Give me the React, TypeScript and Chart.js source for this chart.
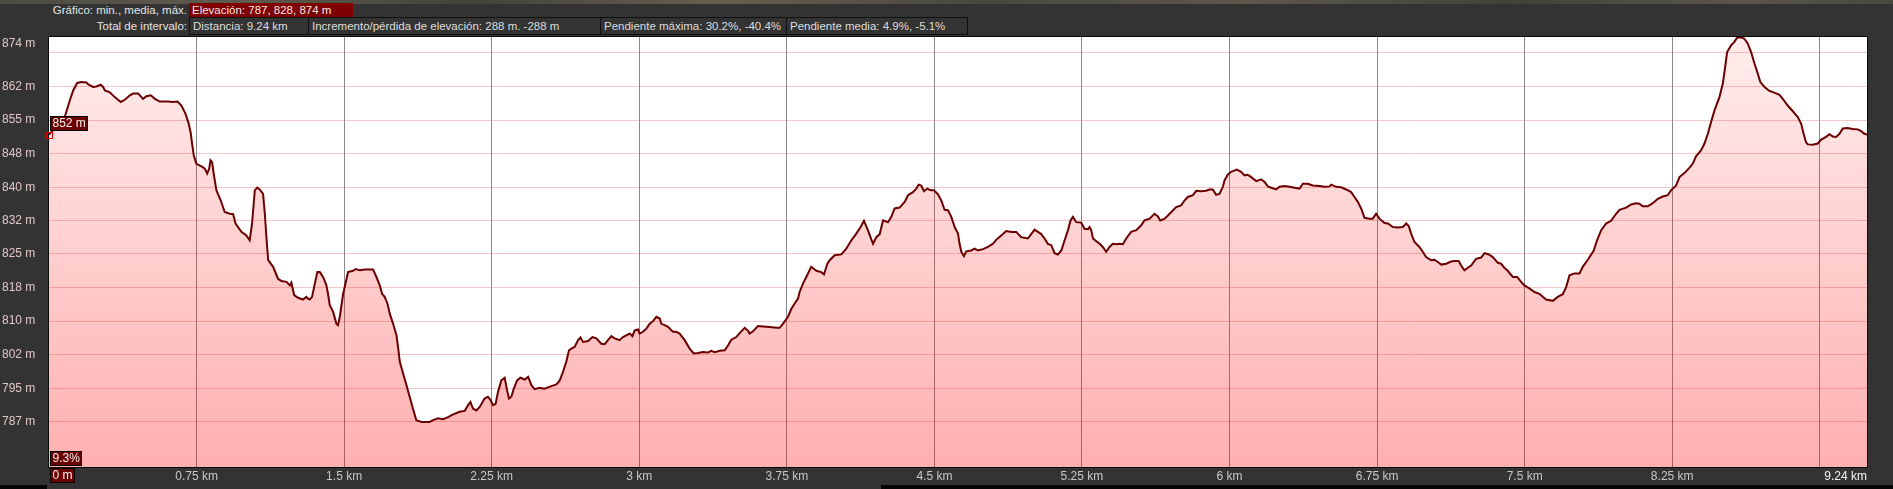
import React, { useEffect, useRef } from "react";
import { Chart, registerables } from "chart.js";

Chart.register(...registerables);

const W = 1893;
const H = 489;
const FONT = "'Liberation Sans', Arial, Helvetica, sans-serif";

// ---- data: distance (km) and elevation (m) ----
const distanceKm = [
  0, 0.080, 0.106, 0.123, 0.143, 0.165, 0.190, 0.199, 0.224, 0.241,
  0.263, 0.275, 0.284, 0.309, 0.334, 0.365, 0.385, 0.411, 0.428, 0.453,
  0.470, 0.478, 0.495, 0.517, 0.538, 0.563, 0.605, 0.631, 0.653, 0.673,
  0.694, 0.710, 0.721, 0.727, 0.736, 0.749, 0.775, 0.792, 0.804, 0.814,
  0.821, 0.829, 0.837, 0.851, 0.873, 0.893, 0.919, 0.936, 0.948, 0.978,
  1.003, 1.020, 1.032, 1.046, 1.058, 1.071, 1.088, 1.097, 1.105, 1.114,
  1.139, 1.164, 1.181, 1.207, 1.224, 1.232, 1.246, 1.266, 1.291, 1.308,
  1.317, 1.325, 1.337, 1.351, 1.364, 1.376, 1.393, 1.410, 1.418, 1.427,
  1.444, 1.461, 1.469, 1.478, 1.495, 1.507, 1.520, 1.545, 1.559, 1.579,
  1.605, 1.647, 1.664, 1.681, 1.693, 1.706, 1.720, 1.732, 1.749, 1.766,
  1.774, 1.783, 1.800, 1.817, 1.833, 1.850, 1.867, 1.893, 1.935, 1.952,
  1.977, 2.003, 2.028, 2.054, 2.087, 2.113, 2.130, 2.142, 2.155, 2.172,
  2.189, 2.214, 2.231, 2.245, 2.257, 2.270, 2.282, 2.299, 2.316, 2.328,
  2.338, 2.350, 2.362, 2.379, 2.396, 2.418, 2.435, 2.452, 2.468, 2.494,
  2.519, 2.553, 2.579, 2.596, 2.612, 2.629, 2.643, 2.655, 2.672, 2.689,
  2.701, 2.714, 2.740, 2.762, 2.782, 2.807, 2.824, 2.841, 2.858, 2.875,
  2.900, 2.917, 2.934, 2.951, 2.965, 2.977, 2.994, 3.002, 3.019, 3.036,
  3.053, 3.070, 3.087, 3.104, 3.112, 3.129, 3.146, 3.171, 3.188, 3.205,
  3.231, 3.256, 3.277, 3.298, 3.324, 3.349, 3.366, 3.383, 3.409, 3.434,
  3.451, 3.468, 3.493, 3.510, 3.536, 3.553, 3.561, 3.578, 3.603, 3.629,
  3.663, 3.697, 3.713, 3.730, 3.756, 3.773, 3.790, 3.807, 3.815, 3.832,
  3.849, 3.874, 3.900, 3.925, 3.939, 3.956, 3.968, 3.993, 4.027, 4.052,
  4.078, 4.103, 4.125, 4.142, 4.162, 4.188, 4.205, 4.222, 4.239, 4.264,
  4.281, 4.298, 4.323, 4.349, 4.366, 4.391, 4.408, 4.420, 4.433, 4.447,
  4.464, 4.481, 4.498, 4.518, 4.535, 4.552, 4.569, 4.586, 4.603, 4.620,
  4.628, 4.637, 4.650, 4.662, 4.687, 4.704, 4.721, 4.747, 4.772, 4.797,
  4.814, 4.840, 4.865, 4.891, 4.916, 4.941, 4.975, 4.992, 5.009, 5.026,
  5.043, 5.060, 5.077, 5.094, 5.111, 5.128, 5.145, 5.162, 5.179, 5.192,
  5.204, 5.221, 5.246, 5.263, 5.280, 5.289, 5.297, 5.306, 5.323, 5.340,
  5.356, 5.373, 5.390, 5.407, 5.424, 5.441, 5.458, 5.475, 5.500, 5.526,
  5.551, 5.568, 5.594, 5.619, 5.636, 5.648, 5.670, 5.687, 5.704, 5.729,
  5.754, 5.771, 5.788, 5.814, 5.831, 5.856, 5.881, 5.898, 5.915, 5.932,
  5.949, 5.966, 5.975, 5.992, 6.008, 6.037, 6.059, 6.076, 6.093, 6.110,
  6.136, 6.161, 6.178, 6.195, 6.212, 6.237, 6.254, 6.280, 6.305, 6.330,
  6.356, 6.373, 6.398, 6.423, 6.457, 6.483, 6.508, 6.517, 6.542, 6.567,
  6.593, 6.618, 6.635, 6.652, 6.669, 6.686, 6.711, 6.728, 6.745, 6.762,
  6.788, 6.805, 6.830, 6.855, 6.881, 6.898, 6.911, 6.923, 6.940, 6.965,
  6.982, 6.999, 7.025, 7.042, 7.059, 7.076, 7.101, 7.126, 7.143, 7.165,
  7.177, 7.194, 7.211, 7.228, 7.253, 7.279, 7.296, 7.318, 7.338, 7.364,
  7.380, 7.397, 7.414, 7.423, 7.440, 7.462, 7.482, 7.499, 7.524, 7.550,
  7.575, 7.592, 7.609, 7.643, 7.668, 7.694, 7.711, 7.728, 7.753, 7.779,
  7.795, 7.821, 7.851, 7.868, 7.889, 7.914, 7.939, 7.965, 7.982, 8.016,
  8.041, 8.066, 8.083, 8.100, 8.126, 8.151, 8.177, 8.202, 8.227, 8.244,
  8.270, 8.287, 8.312, 8.337, 8.354, 8.371, 8.397, 8.414, 8.431, 8.448,
  8.465, 8.490, 8.507, 8.519, 8.529, 8.549, 8.566, 8.580, 8.600, 8.617,
  8.634, 8.651, 8.668, 8.685, 8.698, 8.719, 8.744, 8.769, 8.795, 8.812,
  8.837, 8.863, 8.888, 8.905, 8.918, 8.930, 8.939, 8.964, 8.990, 9.007,
  9.032, 9.049, 9.066, 9.083, 9.100, 9.117, 9.142, 9.167, 9.193, 9.210,
  9.227, 9.240,
];

const elevationM = [
  852, 856.0, 859.8, 862.0, 863.7, 863.9, 863.8, 863.4, 862.8, 862.9,
  863.3, 862.8, 862.0, 861.6, 860.5, 859.4, 859.9, 860.9, 861.3, 861.3,
  860.5, 860.1, 860.7, 860.9, 860.1, 859.5, 859.5, 859.4, 859.5, 858.6,
  856.7, 854.5, 852.2, 850.0, 847.3, 845.4, 844.8, 844.3, 843.2, 844.3,
  846.2, 845.8, 843.2, 839.4, 837.1, 834.5, 834.1, 834.0, 831.9, 830.0,
  829.2, 828.1, 831.9, 839.4, 840.0, 839.6, 838.6, 834.1, 828.8, 823.6,
  822.1, 819.4, 818.9, 818.7, 817.9, 818.5, 815.7, 815.1, 814.7, 815.3,
  814.9, 814.7, 815.3, 818.3, 820.9, 820.9, 819.8, 817.9, 816.0, 813.4,
  811.9, 809.2, 808.9, 810.8, 816.0, 818.3, 820.9, 821.2, 821.6, 821.3,
  821.5, 821.5, 819.8, 817.9, 816.0, 815.3, 813.8, 811.5, 809.2, 806.6,
  804.0, 800.6, 797.9, 795.3, 792.7, 790.0, 787.4, 787.0, 787.0, 787.4,
  787.8, 787.6, 788.1, 788.7, 789.3, 789.5, 790.8, 791.5, 790.0, 789.6,
  790.4, 792.3, 792.7, 791.9, 790.8, 791.1, 793.8, 796.4, 797.0, 794.2,
  792.3, 792.7, 794.5, 796.4, 797.0, 796.6, 797.2, 795.3, 794.4, 794.7,
  794.5, 795.1, 795.5, 796.4, 798.3, 800.6, 803.2, 803.6, 804.0, 805.5,
  806.1, 805.1, 805.3, 806.2, 805.9, 804.7, 804.6, 805.5, 806.4, 805.9,
  805.5, 806.2, 806.6, 807.0, 806.4, 807.7, 807.9, 807.0, 807.4, 808.1,
  809.2, 809.8, 810.8, 810.4, 809.2, 808.9, 808.5, 807.4, 807.4, 807.0,
  805.5, 803.6, 802.5, 802.6, 802.8, 802.7, 803.1, 802.8, 803.1, 803.2,
  804.3, 805.6, 806.2, 807.1, 808.3, 807.6, 807.0, 807.5, 808.7, 808.6,
  808.5, 808.3, 808.3, 809.2, 810.8, 812.6, 813.8, 814.9, 816.4, 818.3,
  819.8, 822.1, 821.2, 820.9, 820.4, 822.8, 823.6, 824.7, 824.9, 826.2,
  828.1, 829.6, 831.1, 832.5, 830.4, 827.3, 828.8, 829.5, 832.6, 832.2,
  833.4, 835.3, 835.5, 836.8, 838.3, 839.0, 839.8, 840.7, 840.5, 839.2,
  839.8, 839.4, 839.4, 838.5, 837.1, 835.0, 834.9, 833.4, 831.1, 829.6,
  827.3, 825.5, 824.5, 825.6, 825.8, 826.2, 825.8, 826.1, 826.6, 827.3,
  828.2, 829.2, 830.2, 830.0, 830.0, 828.8, 828.5, 829.5, 830.5, 830.0,
  829.5, 828.5, 827.3, 827.0, 825.2, 824.9, 825.8, 828.1, 830.4, 832.6,
  833.4, 832.2, 832.1, 830.7, 830.6, 831.1, 830.4, 828.5, 827.9, 827.3,
  826.6, 825.5, 826.6, 827.3, 827.2, 827.3, 827.2, 828.5, 830.0, 830.4,
  831.5, 832.6, 833.0, 834.1, 833.5, 832.6, 833.0, 833.7, 834.5, 835.6,
  836.0, 837.1, 837.9, 838.3, 839.3, 839.2, 839.3, 839.6, 839.6, 838.4,
  838.6, 840.2, 841.7, 843.0, 843.6, 844.1, 843.6, 842.8, 842.9, 842.4,
  841.5, 841.9, 841.3, 840.3, 840.0, 839.6, 840.2, 840.4, 840.2, 840.0,
  839.8, 840.9, 840.9, 840.5, 840.4, 840.2, 840.3, 840.7, 840.2, 840.1,
  839.6, 839.0, 837.9, 836.8, 835.3, 833.2, 833.0, 833.0, 834.1, 833.0,
  832.0, 831.9, 831.1, 831.0, 831.1, 831.9, 831.3, 829.6, 827.7, 826.6,
  825.5, 824.3, 823.6, 823.7, 823.2, 822.6, 822.8, 823.3, 823.4, 823.4,
  822.4, 821.3, 821.9, 822.4, 823.9, 824.2, 825.2, 824.9, 824.3, 823.0,
  822.8, 821.9, 821.2, 820.7, 819.8, 819.8, 818.7, 817.9, 817.2, 816.4,
  816.0, 815.3, 814.7, 814.4, 815.3, 815.9, 817.5, 820.2, 820.6, 820.6,
  822.1, 823.7, 825.8, 828.1, 830.4, 831.9, 832.5, 834.1, 835.0, 835.5,
  836.2, 836.5, 836.4, 835.8, 835.8, 836.5, 837.5, 838.0, 838.3, 839.4,
  840.5, 842.4, 843.3, 844.5, 845.4, 847.1, 848.5, 850.0, 852.2, 854.9,
  857.5, 860.5, 863.5, 867.3, 870.7, 872.2, 873.0, 874.0, 874.0, 873.7,
  872.6, 870.7, 868.1, 865.8, 863.9, 862.8, 861.9, 861.5, 861.0, 860.1,
  858.6, 857.3, 856.0, 854.5, 852.2, 850.3, 849.8, 849.7, 850.0, 850.9,
  851.5, 852.1, 851.6, 851.5, 852.2, 853.4, 853.5, 853.3, 853.2, 852.8,
  852.2, 852.0,
];

// ---- axes ----
const yAxisMin = 776.8;
const yAxisMax = 874.1;
const yGridValues = [787, 794.6, 802.2, 809.8, 817.4, 825.0, 832.5, 840.1, 847.7, 855.3, 862.9, 870.5];
const yTickLabels = ["787 m", "795 m", "802 m", "810 m", "818 m", "825 m", "832 m", "840 m", "848 m", "855 m", "862 m", ""];
const yTopLabelValue = 872.6;
const yTopLabel = "874 m";

const xAxisMax = 9.24;
const xTickValues = [0, 0.75, 1.5, 2.25, 3, 3.75, 4.5, 5.25, 6, 6.75, 7.5, 8.25, 9, 9.24];
const xTickLabels = ["", "0.75 km", "1.5 km", "2.25 km", "3 km", "3.75 km", "4.5 km", "5.25 km", "6 km", "6.75 km", "7.5 km", "8.25 km", "", "9.24 km"];

// ---- header / markers text ----
const headerCaption1 = "Gráfico: min., media, máx.";
const headerValue1 = "Elevación: 787, 828, 874 m";
const headerCaption2 = "Total de intervalo:";
const headerCells2 = [
  "Distancia: 9.24 km",
  "Incremento/pérdida de elevación: 288 m. -288 m",
  "Pendiente máxima: 30.2%, -40.4%",
  "Pendiente media: 4.9%, -5.1%",
];
const headerCellEdges = [189, 308, 600, 786, 967];

const markerElevationLabel = "852 m";
const markerSlopeLabel = "9.3%";
const markerDistanceLabel = "0 m";

const yTickValuesAll = [...yGridValues, yTopLabelValue];
const yTickLabelsAll = [...yTickLabels, yTopLabel];

function drawBox(ctx: CanvasRenderingContext2D, text: string, x: number, y: number, h: number) {
  ctx.save();
  ctx.font = `12px ${FONT}`;
  const w = Math.round(ctx.measureText(text).width + 5);
  ctx.fillStyle = "#6c0000";
  ctx.fillRect(x, y, w, h);
  ctx.strokeStyle = "#000";
  ctx.lineWidth = 1;
  ctx.strokeRect(x + 0.5, y + 0.5, w - 1, h - 1);
  ctx.fillStyle = "#f4f0f0";
  ctx.textBaseline = "middle";
  ctx.textAlign = "left";
  ctx.fillText(text, x + 2.5, y + h / 2 + 0.5);
  ctx.restore();
}

const decorPlugin = {
  id: "decor",
  beforeDraw(chart: any) {
    const { ctx, chartArea: ca } = chart;
    ctx.save();
    ctx.fillStyle = "#ffffff";
    ctx.fillRect(ca.left, ca.top, ca.right - ca.left, ca.bottom - ca.top);
    ctx.restore();
  },
  afterDraw(chart: any) {
    const { ctx, chartArea: ca } = chart;
    const xs = chart.scales.x;
    const ys = chart.scales.y;
    ctx.save();
    ctx.strokeStyle = "#0a0a0a";
    ctx.lineWidth = 1;
    ctx.strokeRect(Math.round(ca.left) - 0.5, Math.round(ca.top) - 0.5, Math.round(ca.right - ca.left) + 1, Math.round(ca.bottom - ca.top) + 1);
    const px = Math.round(xs.getPixelForValue(distanceKm[0]));
    const py = Math.round(ys.getPixelForValue(elevationM[0]));
    ctx.strokeStyle = "#e00000";
    ctx.strokeRect(px - 3 + 0.5, py - 3 + 0.5, 6, 6);
    ctx.restore();
    drawBox(ctx, markerElevationLabel, px + 1, py - 19, 15);
    drawBox(ctx, markerSlopeLabel, Math.round(ca.left) + 1, Math.round(ca.bottom) - 16, 15);
    drawBox(ctx, markerDistanceLabel, Math.round(ca.left) + 1, Math.round(ca.bottom) + 1, 15);
  },
};

export default function App() {
  const canvasRef = useRef<HTMLCanvasElement>(null);

  useEffect(() => {
    const canvas = canvasRef.current;
    if (!canvas) return;
    const points = distanceKm.map((d, i) => ({ x: d, y: elevationM[i] }));
    const chart = new Chart(canvas, {
      type: "line",
      data: {
        datasets: [
          {
            data: points,
            borderColor: "#6c0000",
            borderWidth: 2,
            pointRadius: 0,
            tension: 0,
            fill: "start",
            backgroundColor: (c: any) => {
              const ca = c.chart.chartArea;
              if (!ca) return "rgba(255,0,0,0.2)";
              const g = c.chart.ctx.createLinearGradient(0, ca.top, 0, ca.bottom);
              g.addColorStop(0, "rgba(255,0,0,0.07)");
              g.addColorStop(1, "rgba(255,0,0,0.31)");
              return g;
            },
          },
        ],
      },
      options: {
        responsive: false,
        animation: false,
        events: [],
        layout: { padding: { left: 2, top: 37, right: 26, bottom: 0 } },
        plugins: { legend: { display: false }, tooltip: { enabled: false } },
        scales: {
          x: {
            type: "linear",
            min: 0,
            max: xAxisMax,
            afterBuildTicks: (scale: any) => {
              scale.ticks = xTickValues.map((v) => ({ value: v }));
            },
            afterFit: (scale: any) => {
              scale.height = 22;
            },
            border: { display: false },
            grid: {
              drawTicks: false,
              lineWidth: 1,
              color: (c: any) =>
                c.index === 0 || c.index === xTickValues.length - 1 ? "rgba(0,0,0,0)" : "#8a8a8a",
            },
            ticks: {
              autoSkip: false,
              maxRotation: 0,
              minRotation: 0,
              align: "inner",
              padding: 2,
              font: { family: FONT, size: 12 },
              color: (c: any) => (c.index === xTickValues.length - 1 ? "#f4f4f4" : "#c8c8c8"),
              callback: (_v: any, i: number) => xTickLabels[i],
            },
          },
          y: {
            type: "linear",
            min: yAxisMin,
            max: yAxisMax,
            afterBuildTicks: (scale: any) => {
              scale.ticks = yTickValuesAll.map((v) => ({ value: v }));
            },
            afterFit: (scale: any) => {
              scale.width = 47;
            },
            border: { display: false },
            grid: {
              drawTicks: false,
              lineWidth: 1,
              color: (c: any) =>
                c.index === yTickValuesAll.length - 1 ? "rgba(0,0,0,0)" : "rgba(225,110,110,0.38)",
            },
            ticks: {
              autoSkip: false,
              crossAlign: "far",
              padding: 0,
              font: { family: FONT, size: 12 },
              color: "#e2c6c6",
              callback: (_v: any, i: number) => yTickLabelsAll[i],
            },
          },
        },
      },
      plugins: [decorPlugin],
    } as any);
    return () => chart.destroy();
  }, []);

  const headerText: React.CSSProperties = {
    position: "absolute",
    fontSize: "11.5px",
    whiteSpace: "nowrap",
    boxSizing: "border-box",
  };

  return (
    <div
      style={{
        position: "absolute",
        left: 0,
        top: 0,
        width: W,
        height: H,
        background: "#333333",
        overflow: "hidden",
        fontFamily: FONT,
      }}
    >
      <div
        style={{
          position: "absolute",
          left: 0,
          top: 0,
          width: W,
          height: 4,
          background:
            "linear-gradient(90deg,#4d4a40,#5f5b4d 12%,#45423a 25%,#65604f 38%,#4a473d 52%,#5c584a 66%,#43413a 80%,#5a5648 92%,#4a483f)",
        }}
      />
      <div style={{ ...headerText, left: 0, top: 3, width: 187, height: 14, lineHeight: "14px", textAlign: "right", color: "#e4e4e4" }}>
        {headerCaption1}
      </div>
      <div
        style={{
          ...headerText,
          left: headerCellEdges[0],
          top: 3,
          width: 164,
          height: 14,
          lineHeight: "14px",
          paddingLeft: 3,
          background: "#7e0000",
          color: "#f2e6e6",
        }}
      >
        {headerValue1}
      </div>
      <div style={{ ...headerText, left: 0, top: 18, width: 187, height: 16, lineHeight: "16px", textAlign: "right", color: "#e4e4e4" }}>
        {headerCaption2}
      </div>
      {headerCells2.map((t, i) => (
        <div
          key={i}
          style={{
            ...headerText,
            left: headerCellEdges[i],
            top: 17,
            width: headerCellEdges[i + 1] - headerCellEdges[i] + 1,
            height: 18,
            lineHeight: "16px",
            paddingLeft: 3,
            border: "1px solid #111",
            color: "#dedede",
          }}
        >
          {t}
        </div>
      ))}
      <canvas
        ref={canvasRef}
        width={W}
        height={H}
        style={{ position: "absolute", left: 0, top: 0, width: W, height: H, display: "block" }}
      />
      <div style={{ position: "absolute", left: 0, top: 485, width: 47, height: 4, background: "#050505" }} />
      <div style={{ position: "absolute", left: 881, top: 485, width: W - 881, height: 4, background: "#050505" }} />
    </div>
  );
}
